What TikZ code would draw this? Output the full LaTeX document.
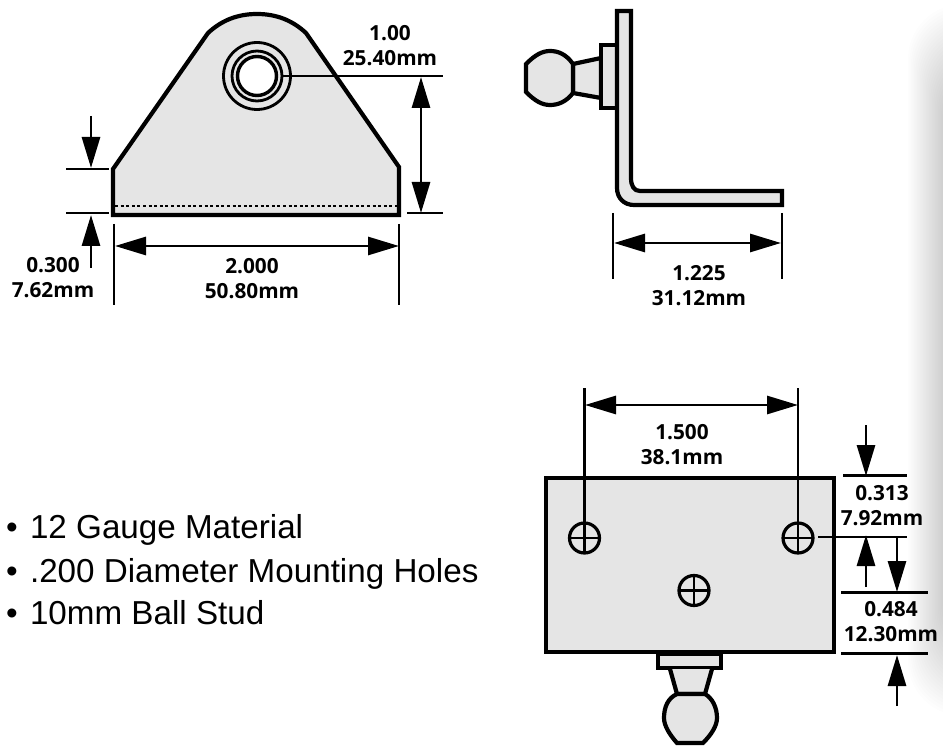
\documentclass[tikz,border=0pt]{standalone}
\usepackage{fontspec}
\setmainfont{Liberation Sans}
\newfontfamily\dimfont{Open Sans}
\usetikzlibrary{arrows.meta}
\definecolor{partfill}{gray}{0.90}
\tikzset{
  x=1pt,y=-1pt,
  part/.style={draw=black,fill=partfill,line width=4.2pt,line join=miter},
  extline/.style={draw=black,line width=2.9pt},
  dimline/.style={draw=black,line width=2.9pt},
  tip/.style={-{Triangle[length=31pt,width=18pt]}},
  twotip/.style={{Triangle[length=31pt,width=18pt]}-{Triangle[length=31pt,width=18pt]}},
  dimtext/.style={font=\dimfont\bfseries\fontsize{20.8}{25}\selectfont,align=center,inner sep=0pt,text=black},
  bullet/.style={font=\fontsize{33.2}{33}\selectfont,anchor=base west,inner sep=0pt,text=black},
  hole/.style={draw=black,fill=partfill,line width=3.2pt},
  holecross/.style={draw=black,line width=2.5pt},
}
\begin{document}
\begin{tikzpicture}
\useasboundingbox (0,0) rectangle (943,754);
\clip (0,0) rectangle (943,754);
% page shadow on the right edge
\foreach \i in {0,...,24}{
  \fill[black,opacity=0.0085,rounded corners=55pt]
    ({908+1.5*\i},{4+2.6*\i}) rectangle (1030,{716-2.6*\i});
}
% ---- front view
\draw[part] (113,215) -- (113,169) -- (208,33)
  .. controls (222,20) and (238,14) .. (257,14)
  .. controls (276,14) and (292,20) .. (306,33)
  -- (399,167) -- (399,215) -- cycle;
\draw[line width=2.4pt,dash pattern=on 3pt off 2.6pt] (115,206) -- (397,206);
\draw[line width=2.8pt,fill=partfill] (257,76) circle[radius=33.5];
\draw[line width=2.8pt] (257,76) circle[radius=25];
\draw[line width=3.4pt,fill=white] (257,76) circle[radius=19.5];
\draw[dimline] (283,76) -- (443,76);
\draw[dimline] (407,213) -- (443,213);
\draw[dimline,twotip] (421,77) -- (421,213);
\draw[dimline] (66,169) -- (109,169);
\draw[dimline] (66,213) -- (109,213);
\draw[dimline,tip] (91,116) -- (91,168);
\draw[dimline,tip] (91,268) -- (91,215);
\draw[extline] (114,224) -- (114,305);
\draw[extline] (399,224) -- (399,305);
\draw[dimline,twotip] (115,246) -- (399,246);
\node[dimtext] (frontR) at (390,46) {1.00\\25.40mm};
\node[dimtext] (frontH) at (53,278) {0.300\\7.62mm};
\node[dimtext] (frontW) at (252,279) {2.000\\50.80mm};
% ---- side view
\draw[part] (601,58) -- (573,64) -- (573,93) -- (601,98) -- cycle;
\draw[part] (617,45) -- (601,45) -- (601,108) -- (617,108);
\draw[part] (573,64) .. controls (566,54) and (558,51) .. (550,51)
  .. controls (542,51) and (535,55) .. (526,64) -- (526,92)
  .. controls (535,101) and (542,105) .. (550,105)
  .. controls (558,105) and (566,102) .. (573,93) -- cycle;
\draw[part] (617,11) -- (631,11) -- (631,178)
  .. controls (631,186) and (634,191) .. (640,191)
  -- (782,191) -- (782,205) -- (634,205)
  .. controls (624,205) and (617,198) .. (617,188) -- cycle;
\draw[extline] (613,213) -- (613,279);
\draw[extline] (782,213) -- (782,279);
\draw[dimline,twotip] (614,243) -- (781,243);
\node[dimtext] (sideW) at (699,286) {1.225\\31.12mm};
% ---- bottom view
\draw[part] (546,478) rectangle (834,652);
\draw[part,line width=3.6pt] (658,654) rectangle (721,668);
\draw[part] (670,669) -- (677,694) -- (705,694) -- (712,669);
\draw[part] (677,694) .. controls (668,698) and (664,707) .. (664,718)
  .. controls (664,726) and (670,735) .. (677,743) -- (703,743)
  .. controls (711,735) and (717,726) .. (717,718)
  .. controls (717,707) and (712,698) .. (705,694) -- cycle;
\draw[hole] (584.5,538) circle[radius=15];
\draw[holecross] (569.5,538) -- (599.5,538);
\draw[hole] (798,538) circle[radius=15];
\draw[holecross] (783,538) -- (813,538);
\draw[hole] (694,590.5) circle[radius=15];
\draw[holecross] (679,590.5) -- (709,590.5);
\draw[holecross] (694,575.5) -- (694,605.5);
\draw[extline] (584.5,388) -- (584.5,553);
\draw[extline] (798,388) -- (798,553);
\draw[dimline,twotip] (585,405) -- (798,405);
\node[dimtext] (bottomW) at (682,445) {1.500\\38.1mm};
\draw[dimline] (843,475.5) -- (907,475.5);
\draw[dimline] (818,537) -- (907,537);
\draw[dimline] (841,592.5) -- (928,592.5);
\draw[dimline] (841,653.5) -- (928,653.5);
\draw[dimline,tip] (866,425) -- (866,476);
\draw[dimline,tip] (866,587) -- (866,535);
\draw[dimline,tip] (897,538) -- (897,592);
\draw[dimline,tip] (897,706) -- (897,655);
\node[dimtext] (bottomA) at (882,506) {0.313\\7.92mm};
\node[dimtext] (bottomB) at (891,622) {0.484\\12.30mm};
% ---- feature list
\node[bullet] (b1) at (6,538) {•\hspace{3pt} 12 Gauge Material};
\node[bullet] (b2) at (6,582) {•\hspace{3pt} .200 Diameter Mounting Holes};
\node[bullet] (b3) at (6,624) {•\hspace{3pt} 10mm Ball Stud};
\end{tikzpicture}
\end{document}
